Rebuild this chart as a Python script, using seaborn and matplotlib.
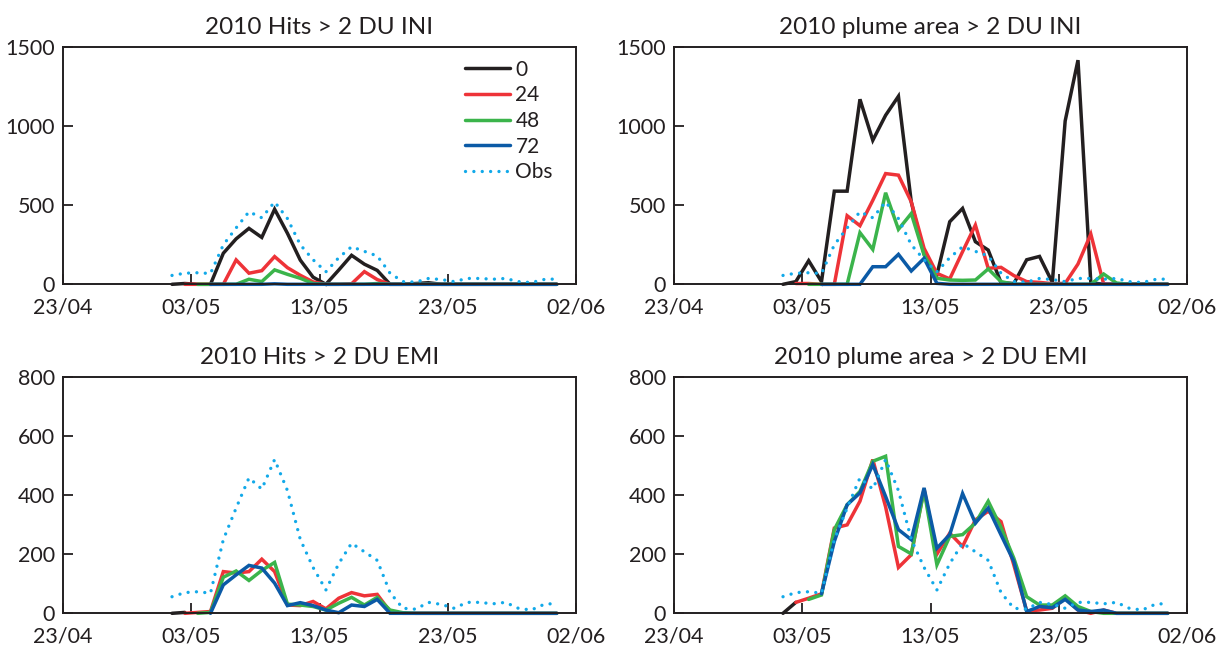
import numpy as np
import pandas as pd
import matplotlib
matplotlib.use("Agg")
import matplotlib.pyplot as plt
import matplotlib.dates as mdates
import seaborn as sns

nan = np.nan

# Daily values at noon, 1 May - 31 May 2010
days = pd.date_range("2010-05-01 12:00", periods=31, freq="D")
lead_labels = ["0", "24", "48", "72"]
obs_label = "Obs"

# Observed values (same satellite record in every panel)
obs = [56, 70, 73, 68, 249, 356, 458, 420, 520, 415, 250, 155, 79, 168, 237,
       208, 179, 70, 17, 14, 37, 30, 17, 37, 37, 32, 37, 17, 11, 30, 34]

# Hits > 2 DU, INI run, by forecast lead time (h)
hits_ini_0 = [0, 5, 0, 0, 196, 287, 353, 296, 474, 322, 153, 45, 0, 90, 183,
              127, 88, 0, 0, 5, 10, 0, 0, 0, 0, 0, 0, 0, 0, 0, 0]
hits_ini_24 = [nan, 0, 0, 0, 0, 154, 70, 86, 175, 105, 57, 15, 0, 0, 3,
               80, 30, 0, 0, 0, 0, 0, 0, 0, 0, 0, 0, 0, 0, 0, 0]
hits_ini_48 = [nan, nan, 0, 0, 0, 0, 32, 17, 91, 63, 38, 5, 0, 0, 0,
               0, 5, 0, 0, 0, 0, 0, 0, 0, 0, 0, 0, 0, 0, 0, 0]
hits_ini_72 = [nan, nan, nan, 0, 0, 0, 0, 0, 3, 0, 0, 0, 0, 0, 0,
               0, 0, 0, 0, 0, 0, 0, 0, 0, 0, 0, 0, 0, 0, 0, 0]

# Plume area > 2 DU, INI run
area_ini_0 = [0, 17, 149, 17, 588, 588, 1168, 909, 1067, 1187, 520, 190, 60, 395, 479,
              269, 216, 10, 5, 155, 176, 12, 1031, 1415, 10, 0, 0, 0, 0, 0, 0]
area_ini_24 = [nan, 5, 5, 0, 0, 433, 370, 530, 699, 689, 521, 227, 69, 34, 206,
               374, 101, 107, 55, 17, 12, 4, 6, 128, 317, 2, 0, 0, 0, 0, 0]
area_ini_48 = [nan, nan, 0, 0, 0, 0, 326, 220, 578, 347, 447, 185, 38, 27, 25,
               27, 97, 17, 0, 0, 0, 0, 0, 0, 0, 65, 8, 0, 0, 0, 0]
area_ini_72 = [nan, nan, nan, 0, 0, 0, 0, 111, 111, 189, 84, 164, 6, 0, 0,
               0, 0, 0, 0, 0, 0, 0, 0, 0, 0, 0, 0, 0, 0, 0, 0]

# Hits > 2 DU, EMI run
hits_emi_0 = [0, 3] + [nan] * 29
hits_emi_24 = [nan, 0, 3, 6, 141, 136, 141, 183, 141, 28, 26, 40, 15, 51, 70,
               59, 64, 6, 0, 0, 0, 0, 0, 0, 0, 0, 0, 0, 0, 0, 0]
hits_emi_48 = [nan, nan, 0, 3, 122, 143, 111, 145, 172, 31, 28, 23, 11, 34, 54,
               28, 54, 11, 2, 0, 0, 0, 0, 0, 0, 0, 0, 0, 0, 0, 0]
hits_emi_72 = [nan, nan, nan, 0, 96, 130, 162, 153, 102, 26, 36, 26, 11, 2, 28,
               23, 47, 0, 0, 0, 0, 0, 0, 0, 0, 0, 0, 0, 0, 0, 0]

# Plume area > 2 DU, EMI run
area_emi_0 = [0, 37] + [nan] * 29
area_emi_24 = [nan, 37, 51, 66, 288, 299, 379, 520, 360, 155, 198, 420, 200, 271, 226,
               316, 345, 310, 163, 8, 11, 17, 51, 11, 0, 11, 0, 0, 0, 0, 0]
area_emi_48 = [nan, nan, 47, 62, 283, 367, 412, 514, 531, 226, 201, 415, 164, 260, 266,
               305, 379, 290, 186, 56, 28, 28, 59, 23, 6, 0, 0, 0, 0, 0, 0]
area_emi_72 = [nan, nan, nan, 66, 243, 367, 407, 503, 395, 283, 249, 424, 220, 266, 405,
               305, 356, 265, 175, 6, 23, 19, 47, 11, 6, 11, 0, 0, 0, 0, 0]

titles = ["2010 Hits > 2 DU INI", "2010 plume area > 2 DU INI",
          "2010 Hits > 2 DU EMI", "2010 plume area > 2 DU EMI"]

lead_colors = ["#231f20", "#ee3338", "#3bb44b", "#0b5aa6"]
obs_color = "#12a9e9"
text_color = "#231f20"

sns.set_theme(style="white")
plt.rcParams["font.family"] = ["Lato", "DejaVu Sans"]

W, H = 1227, 648
fig = plt.figure(figsize=(W / 100, H / 100), dpi=100)


def rect(left, top, right, bottom):
    return [left / W, 1 - bottom / H, (right - left) / W, (bottom - top) / H]


panels = [
    (rect(63, 46.7, 576, 284.3), titles[0],
     [hits_ini_0, hits_ini_24, hits_ini_48, hits_ini_72], 1500, 500),
    (rect(674, 46.7, 1187, 284.3), titles[1],
     [area_ini_0, area_ini_24, area_ini_48, area_ini_72], 1500, 500),
    (rect(63, 376.7, 576, 613.3), titles[2],
     [hits_emi_0, hits_emi_24, hits_emi_48, hits_emi_72], 800, 200),
    (rect(674, 376.7, 1187, 613.3), titles[3],
     [area_emi_0, area_emi_24, area_emi_48, area_emi_72], 800, 200),
]

xticks = pd.date_range("2010-04-23", periods=5, freq="10D")

for i, (r, title, series, ymax, ystep) in enumerate(panels):
    ax = fig.add_axes(r)
    for lab, vals, col in zip(lead_labels, series, lead_colors):
        sns.lineplot(x=days, y=np.array(vals, dtype=float), ax=ax, color=col,
                     lw=2.5, label=lab, legend=False, estimator=None,
                     clip_on=False, solid_joinstyle="miter")
    sns.lineplot(x=days, y=np.array(obs, dtype=float), ax=ax, color=obs_color,
                 lw=2.4, label=obs_label, legend=False, estimator=None,
                 linestyle=(0, (0.01, 2.5)), dash_capstyle="round", clip_on=False)

    ax.set_xlim(pd.Timestamp("2010-04-23"), pd.Timestamp("2010-06-02"))
    ax.set_ylim(0, ymax)
    ax.set_xticks(xticks)
    ax.xaxis.set_major_formatter(mdates.DateFormatter("%d/%m"))
    ax.set_yticks(np.arange(0, ymax + 1, ystep))
    ax.set_xlabel("")
    ax.set_ylabel("")
    ax.tick_params(direction="in", length=7, width=1.3, colors=text_color,
                   labelsize=15.5, bottom=True, left=True, top=False, right=False)
    ax.tick_params(axis="x", pad=9.5)
    ax.tick_params(axis="y", pad=6)
    for sp in ax.spines.values():
        sp.set_color(text_color)
        sp.set_linewidth(1.4)
    ax.set_title(title, fontsize=17.5, color=text_color, pad=9)

    if i == 0:
        ax.legend(loc="upper right", bbox_to_anchor=(0.955, 0.945),
                  frameon=False, fontsize=15, handlelength=2.15,
                  handletextpad=0.25, labelspacing=0.27, borderpad=0,
                  borderaxespad=0, labelcolor=text_color)

fig.savefig("out.png", dpi=100)
